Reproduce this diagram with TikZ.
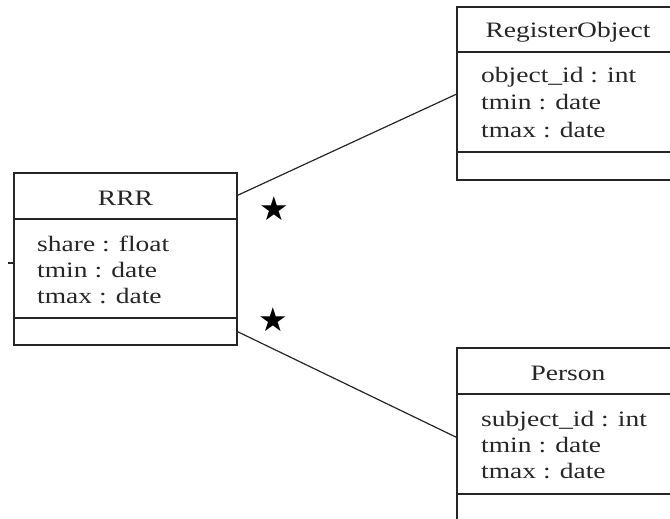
\documentclass[tikz,border=0pt]{standalone}
\usepackage{fontspec}
\setmainfont{Liberation Serif}[FakeStretch=1.25]
\newfontfamily\symfont{DejaVu Sans}
\begin{document}
\begin{tikzpicture}[x=1pt,y=-1pt,
  umlbox/.style={draw=black!85, line width=1.5pt, rectangle, inner sep=0pt},
  divider/.style={draw=black!85, line width=1.5pt},
  conn/.style={draw=black!85, line width=1.2pt},
  txt/.style={inner sep=0pt, anchor=base west, text=black!85, font=\fontsize{22}{26}\selectfont},
  ttl/.style={inner sep=0pt, anchor=base, text=black!85, font=\fontsize{22}{26}\selectfont},
  mult/.style={inner sep=0pt, font=\symfont\fontsize{33}{33}\selectfont}]
\useasboundingbox (0,0) rectangle (670,519);
\clip (0,0) rectangle (670,519);
% RRR
\node[umlbox, minimum width=223pt, minimum height=172pt] (rrr) at (125.5,259) {};
\draw[divider] (14,219) -- (237,219);
\draw[divider] (14,318) -- (237,318);
\node[ttl] (rrrt) at (125.5,205) {RRR};
\node[txt] (rrra1) at (37,251) {share : float};
\node[txt] (rrra2) at (37,277) {tmin : date};
\node[txt] (rrra3) at (37,303) {tmax : date};
\coordinate (tick) at (8,263);
\draw[conn] (tick) -- (rrr.west |- tick);
% RegisterObject
\node[umlbox, minimum width=225pt, minimum height=173pt] (ro) at (569.5,93.5) {};
\draw[divider] (457,52) -- (682,52);
\draw[divider] (457,152) -- (682,152);
\node[ttl] (rot) at (568,38) {RegisterObject};
\node[txt] (roa1) at (481,83) {object\_id : int};
\node[txt] (roa2) at (481,110) {tmin : date};
\node[txt] (roa3) at (481,137) {tmax : date};
% Person
\node[umlbox, minimum width=225pt, minimum height=182pt] (pe) at (569.5,439) {};
\draw[divider] (457,394) -- (682,394);
\draw[divider] (457,494) -- (682,494);
\node[ttl] (pet) at (568,380) {Person};
\node[txt] (pea1) at (481,426) {subject\_id : int};
\node[txt] (pea2) at (481,452) {tmin : date};
\node[txt] (pea3) at (481,478) {tmax : date};
% connectors
\draw[conn] ([yshift=-23pt]rrr.north east) -- ([yshift=-88pt]ro.north west);
\draw[conn] ([yshift=14pt]rrr.south east) -- ([yshift=-90pt]pe.north west);
\node[mult] (m1) at (274,209) {★};
\node[mult] (m2) at (273,320) {★};
\end{tikzpicture}
\end{document}
